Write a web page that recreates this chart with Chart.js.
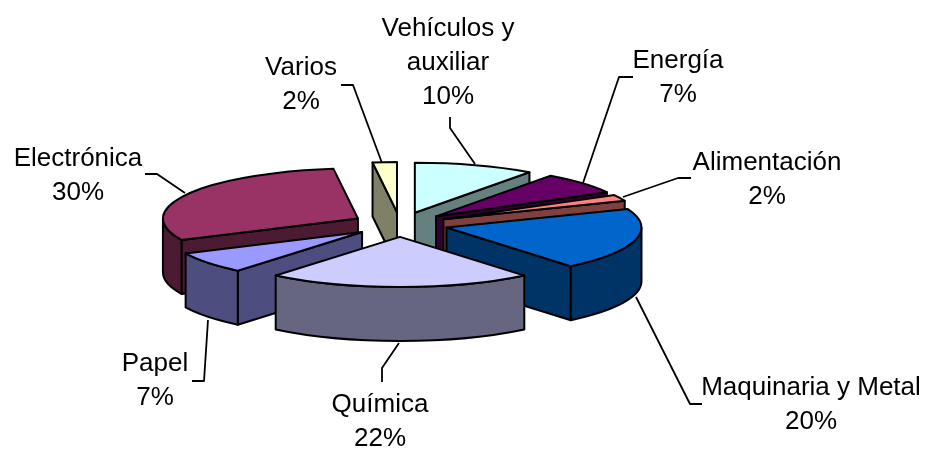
<!DOCTYPE html>
<html>
<head>
<meta charset="utf-8">
<style>
  html, body { margin: 0; background: #fff; }
  canvas { display: block; }
</style>
<script src="https://cdn.jsdelivr.net/npm/chart.js@4"></script>
</head>
<body>
<canvas id="grafico" width="928" height="449"></canvas>
<script>
const categorias = ['Vehículos y\nauxiliar', 'Energía', 'Alimentación', 'Maquinaria y Metal', 'Química', 'Papel', 'Electrónica', 'Varios'];
const valores = [10, 7, 2, 20, 22, 7, 30, 2];
const colores = ['#CCFFFF', '#660066', '#FF8080', '#0066CC', '#CCCCFF', '#9999FF', '#993366', '#FFFFCC'];

// centro de cada etiqueta y linea base de su primera linea
const posEtiquetas = [[448, 36], [678, 68], [767, 170], [811, 395], [380, 412], [155, 371], [78, 166], [301, 75]];
// lineas guia, de la etiqueta a la porcion
const guias = [
    [[450, 117], [450, 128], [475, 164]],
    [[633, 77], [619, 77], [583, 183]],
    [[691, 178], [678, 178], [623, 197]],
    [[702, 404], [690, 404], [636, 297]],
    [[382, 382], [382, 368], [399, 343]],
    [[192, 381], [204, 381], [208, 320]],
    [[145, 174], [157, 174], [185, 193]],
    [[341, 85], [353, 85], [382, 163]]
];

const inclinacion = 0.257;  // achatado de la elipse
const alto3d = 54;

function oscurecer(hex) {
    const n = parseInt(hex.slice(1), 16);
    return `rgb(${(n >> 16) / 2}, ${((n >> 8) & 255) / 2}, ${(n & 255) / 2})`;
}

function trazar(ctx, relleno) {
    ctx.fillStyle = relleno;
    ctx.fill();
    ctx.stroke();
}

function dibujarPorcion(ctx, arco, color) {
    const { x, y, startAngle: a, endAngle: b, outerRadius: r } = arco.getProps(['x', 'y', 'startAngle', 'endAngle', 'outerRadius']);
    const rY = r * inclinacion;
    const medio = (a + b) / 2;
    const cx = x + Math.cos(medio) * arco.options.offset;
    const cy = y + Math.sin(medio) * arco.options.offset * inclinacion;
    const lado = oscurecer(color);

    const cara = function (ang) {
        const px = cx + Math.cos(ang) * r;
        const py = cy + Math.sin(ang) * rY;
        ctx.beginPath();
        ctx.moveTo(cx, cy);
        ctx.lineTo(px, py);
        ctx.lineTo(px, py + alto3d);
        ctx.lineTo(cx, cy + alto3d);
        ctx.closePath();
        trazar(ctx, lado);
    };
    if (Math.cos(a) < -0.001) cara(a);
    if (Math.cos(b) > 0.001) cara(b);

    // pared exterior, solo la parte que mira hacia delante
    const ini = Math.max(a, 0);
    const fin = Math.min(b, Math.PI);
    if (fin > ini) {
        ctx.beginPath();
        ctx.ellipse(cx, cy, r, rY, 0, ini, fin);
        ctx.ellipse(cx, cy + alto3d, r, rY, 0, fin, ini, true);
        ctx.closePath();
        trazar(ctx, lado);
    }

    ctx.beginPath();
    ctx.moveTo(cx, cy);
    ctx.ellipse(cx, cy, r, rY, 0, a, b);
    ctx.closePath();
    trazar(ctx, color);
}

const pastel3d = {
    id: 'pastel3d',
    beforeDatasetsDraw(chart) {
        const ctx = chart.ctx;
        const arcos = chart.getDatasetMeta(0).data;
        const orden = arcos.map((arco, i) => i).sort(function (i, j) {
            const medio = k => (arcos[k].startAngle + arcos[k].endAngle) / 2;
            return Math.sin(medio(i)) - Math.sin(medio(j));
        });

        ctx.save();
        ctx.strokeStyle = '#000';
        ctx.lineWidth = 2;
        ctx.lineJoin = 'round';
        orden.forEach(i => dibujarPorcion(ctx, arcos[i], colores[i]));

        ctx.lineWidth = 1.8;
        guias.forEach(function (guia) {
            ctx.beginPath();
            guia.forEach((p, k) => k ? ctx.lineTo(p[0], p[1]) : ctx.moveTo(p[0], p[1]));
            ctx.stroke();
        });

        ctx.fillStyle = '#000';
        ctx.font = '26px "Liberation Sans"';
        ctx.textAlign = 'center';
        categorias.forEach(function (nombre, i) {
            const lineas = nombre.split('\n').concat(valores[i] + '%');
            lineas.forEach((txt, k) => ctx.fillText(txt, posEtiquetas[i][0], posEtiquetas[i][1] + k * 34));
        });
        ctx.restore();
        return false;
    }
};

new Chart(document.getElementById('grafico'), {
    type: 'pie',
    data: {
        labels: categorias,
        datasets: [{
            data: valores,
            backgroundColor: colores,
            borderWidth: 0,
            offset: 48
        }]
    },
    options: {
        responsive: false,
        animation: false,
        radius: 195,
        layout: { padding: { right: 128 } },
        plugins: { legend: { display: false }, tooltip: { enabled: false } }
    },
    plugins: [pastel3d]
});
</script>
</body>
</html>
